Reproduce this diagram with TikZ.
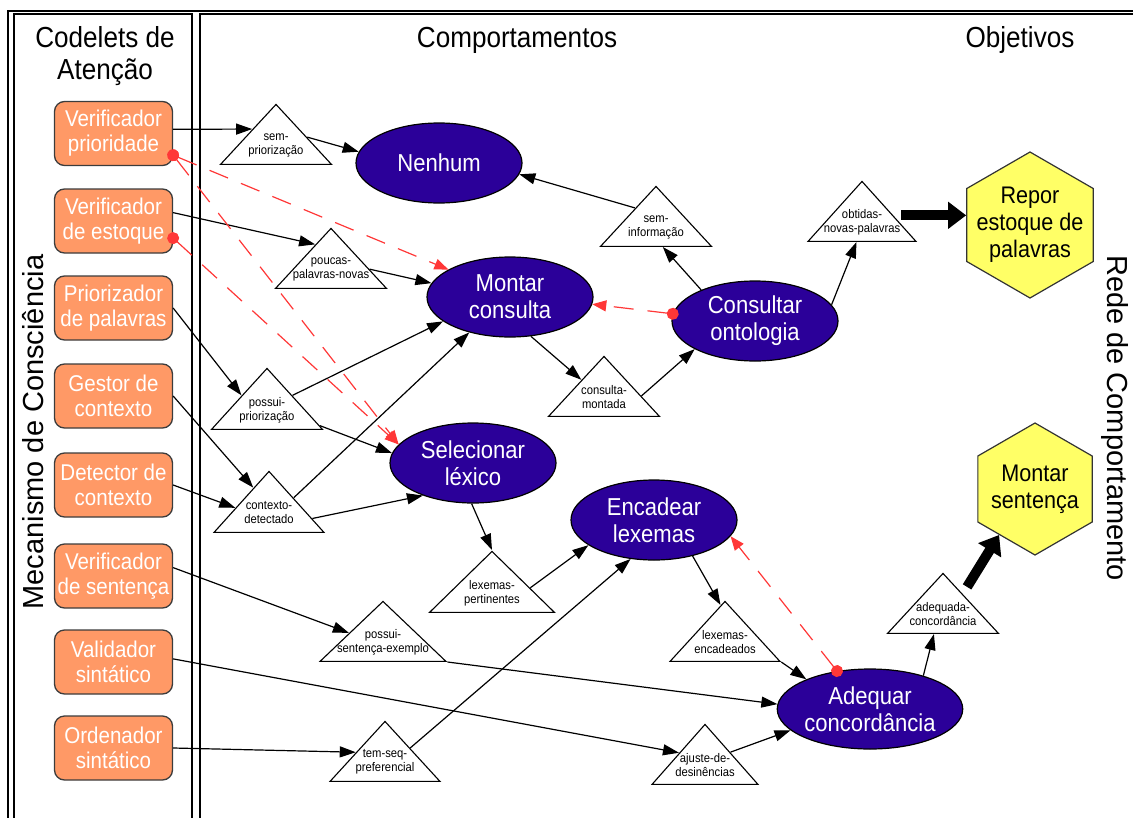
\documentclass[tikz,border=0pt]{standalone}
\usepackage{fontspec}
\setmainfont{Liberation Sans}
\newfontfamily\narrowsans[FakeStretch=0.9]{Liberation Sans}
\usetikzlibrary{shapes.geometric,arrows.meta,calc}

\definecolor{codelet}{RGB}{255,153,102}
\definecolor{codeletline}{RGB}{60,60,60}
\definecolor{behav}{RGB}{43,0,153}
\definecolor{goal}{RGB}{255,255,102}
\definecolor{inhib}{RGB}{255,55,55}

\begin{document}
\begin{tikzpicture}[x=1pt,y=-1pt,
  frame/.style={draw=black,line width=1.2pt},
  title/.style={font=\narrowsans\fontsize{29}{32}\selectfont,align=center,inner sep=0pt},
  sidetitle/.style={font=\fontsize{29}{32}\selectfont,inner sep=0pt},
  codeletbox/.style={draw=codeletline,fill=codelet,line width=1.3pt,rounded corners=10pt,
    minimum width=118pt,minimum height=64pt,inner sep=0pt,align=center,text=white,
    font=\narrowsans\fontsize{22.8}{25}\selectfont},
  behaviour/.style={ellipse,draw=black,fill=behav,line width=1.2pt,minimum width=166pt,
    minimum height=80pt,inner sep=0pt,align=center,text=white,
    font=\narrowsans\fontsize{24.5}{27}\selectfont},
  goalhex/.style={regular polygon,regular polygon sides=6,regular polygon rotate=30,
    draw=black!80,fill=goal,line width=1.2pt,inner sep=0pt},
  goaltext/.style={align=center,inner sep=0pt,font=\narrowsans\fontsize{24}{27}\selectfont},
  precond/.style={isosceles triangle,isosceles triangle stretches,shape border rotate=90,
    draw=black,fill=white,line width=1.1pt,inner sep=0pt,minimum width=111pt,
    minimum height=60pt,anchor=apex},
  precondtext/.style={font=\narrowsans\fontsize{12.5}{14}\selectfont,align=center,inner sep=0pt},
  conn/.style={draw=black,line width=1.2pt,-{Triangle[length=16pt,width=11pt]}},
  goalconn/.style={draw=black,line width=10pt,-{Triangle[length=18pt,width=26pt]}},
  inhibit/.style={draw=inhib,line width=1.2pt,dash pattern=on 20pt off 14pt,
    shorten <=-6pt,{Circle[length=12pt]}-{Triangle[length=14pt,width=11pt]}}
]
\useasboundingbox (0,0) rectangle (1133,817);
\clip (0,0) rectangle (1133,817);

% panel frames
\draw[frame] (8,840) -- (8,11) -- (1150,11);
\draw[frame] (14,840) -- (14,14) -- (192,14) -- (192,840);
\draw[frame] (200,840) -- (200,14) -- (1150,14);

% headings
\node[title] (hcod) at (105,56) {Codelets de\\Atenção};
\node[title] (hcomp) at (517,40) {Comportamentos};
\node[title] (hobj) at (1020,40) {Objetivos};
\node[sidetitle,rotate=90] (hmec) at (33,432) {Mecanismo de Consciência};
\node[sidetitle,rotate=-90] (hrede) at (1115,418) {Rede de Comportamento};

% attention codelets
\node[codeletbox] (vp)  at (113.5,133.5) {Verificador\\prioridade};
\node[codeletbox] (ve)  at (113.5,221) {Verificador\\de estoque};
\node[codeletbox] (pp)  at (113.5,308) {Priorizador\\de palavras};
\node[codeletbox] (gc)  at (113.5,396) {Gestor de\\contexto};
\node[codeletbox] (dc)  at (113.5,485) {Detector de\\contexto};
\node[codeletbox] (vs)  at (113.5,576) {Verificador\\de sentença};
\node[codeletbox] (vsi) at (113.5,662) {Validador\\sintático};
\node[codeletbox] (os)  at (113.5,748) {Ordenador\\sintático};

% behaviours
\node[behaviour] (ne) at (439,163) {Nenhum};
\node[behaviour] (mc) at (510,297) {Montar\\consulta};
\node[behaviour] (co) at (755,321) {Consultar\\ontologia};
\node[behaviour] (sl) at (473,463) {Selecionar\\léxico};
\node[behaviour] (el) at (654,520) {Encadear\\lexemas};
\node[behaviour] (ad) at (870,709) {Adequar\\concordância};

% goals
\node[goalhex,minimum size=146pt] (rp) at (1030,225) {};
\node[goalhex,minimum size=132pt] (ms) at (1035,489) {};
\node[goaltext] (rpl) at (rp.center) {Repor\\estoque de\\palavras};
\node[goaltext] (msl) at (ms.center) {Montar\\sentença};

% propositions
\node[precond] (tsp)  at (276,103) {};
\node[precond] (tppn) at (331,227) {};
\node[precond] (tsi)  at (656,185) {};
\node[precond,minimum width=108pt] (tonp) at (862,180) {};
\node[precond] (tcm)  at (604,355) {};
\node[precond,minimum height=61pt] (tpp)  at (267,367) {};
\node[precond,minimum width=110pt,minimum height=61pt] (tcd)  at (269,470) {};
\node[precond,minimum width=125pt,minimum height=61pt] (tlp)  at (492,550) {};
\node[precond,minimum width=126pt] (tpse) at (383,600) {};
\node[precond,minimum width=110pt] (tle)  at (725,600) {};
\node[precond] (tac)  at (943,572) {};
\node[precond,minimum width=110pt] (ttsp) at (385,720) {};
\node[precond,minimum width=106pt] (tad)  at (705,723) {};

\node[precondtext] (tspl)  at ($(tsp.lower side)+(0,-20)$)  {sem-\\priorização};
\node[precondtext] (tppnl) at ($(tppn.lower side)+(0,-20)$) {poucas-\\palavras-novas};
\node[precondtext] (tsil)  at ($(tsi.lower side)+(0,-20)$)  {sem-\\informação};
\node[precondtext] (tonpl) at ($(tonp.lower side)+(0,-20)$) {obtidas-\\novas-palavras};
\node[precondtext] (tcml)  at ($(tcm.lower side)+(0,-20)$)  {consulta-\\montada};
\node[precondtext] (tppl)  at ($(tpp.lower side)+(0,-20)$)  {possui-\\priorização};
\node[precondtext] (tcdl)  at ($(tcd.lower side)+(0,-20)$)  {contexto-\\detectado};
\node[precondtext] (tlpl)  at ($(tlp.lower side)+(0,-20)$)  {lexemas-\\pertinentes};
\node[precondtext] (tpsel) at ($(tpse.lower side)+(0,-20)$) {possui-\\sentença-exemplo};
\node[precondtext] (tlel)  at ($(tle.lower side)+(0,-20)$)  {lexemas-\\encadeados};
\node[precondtext] (tacl)  at ($(tac.lower side)+(0,-20)$)  {adequada-\\concordância};
\node[precondtext] (ttspl) at ($(ttsp.lower side)+(0,-20)$) {tem-seq-\\preferencial};
\node[precondtext] (tadl)  at ($(tad.lower side)+(0,-20)$)  {ajuste-de-\\desinências};

% activation links
\draw[conn] (vp.4) -- ($(tsp.apex)!0.42!(tsp.left corner)$);
\draw[conn] ($(tsp.apex)!0.55!(tsp.right corner)$) -- (ne.172);
\draw[conn] (ve.8) -- ($(tppn.apex)!0.28!(tppn.left corner)$);
\draw[conn] ($(tppn.apex)!0.68!(tppn.right corner)$) -- (mc.170);
\draw[conn] (pp.east) -- ($(tpp.apex)!0.45!(tpp.left corner)$);
\draw[conn] ($(tpp.apex)!0.45!(tpp.right corner)$) -- (mc.200);
\draw[conn] ($(tpp.apex)!0.93!(tpp.right corner)$) -- (sl.173);
\draw[conn] (gc.east) -- ($(tcd.apex)!0.28!(tcd.left corner)$);
\draw[conn] (dc.east) -- ($(tcd.apex)!0.6!(tcd.left corner)$);
\draw[conn] ($(tcd.apex)!0.44!(tcd.right corner)$) -- (mc.221);
\draw[conn] ($(tcd.apex)!0.77!(tcd.right corner)$) -- (sl.213);
\draw[conn] (mc.-62) -- ($(tcm.apex)!0.4!(tcm.left corner)$);
\draw[conn] ($(tcm.apex)!0.66!(tcm.right corner)$) -- (co.205);
\draw[conn] (co.150) -- ($(tsi.left corner)!0.56!(tsi.right corner)$);
\draw[conn] ($(tsi.apex)!0.37!(tsi.left corner)$) -- (ne.-8);
\draw[conn] (co.12) -- ($(tonp.left corner)!0.45!(tonp.right corner)$);
\draw[conn] (sl.-92) -- (tlp.apex);
\draw[conn] ($(tlp.apex)!0.6!(tlp.right corner)$) -- (el.201);
\draw[conn] ($(ttsp.apex)!0.45!(ttsp.right corner)$) -- (el.239);
\draw[conn] (vs.8) -- ($(tpse.apex)!0.53!(tpse.left corner)$);
\draw[conn] (tpse.right corner) -- (ad.177);
\draw[conn] (vsi.3) -- ($(tad.apex)!0.48!(tad.left corner)$);
\draw[conn] (os.east) -- ($(ttsp.apex)!0.52!(ttsp.left corner)$);
\draw[conn] ($(tad.apex)!0.47!(tad.right corner)$) -- (ad.195);
\draw[conn] (el.-43) -- ($(tle.apex)!0.08!(tle.left corner)$);
\draw[conn] (tle.right corner) -- (ad.155);
\draw[conn] (ad.32) -- ($(tac.left corner)!0.42!(tac.right corner)$);

% goal links
\coordinate (onpout) at ($(tonp.apex)!0.57!(tonp.right corner)$);
\draw[goalconn,shorten <=8pt] (onpout) -- (onpout -| rp.west);
\draw[goalconn,shorten <=8pt] ($(tac.apex)!0.35!(tac.right corner)$) -- (ms.232);

% inhibition links
\draw[inhibit] (vp.-20) -- (mc.156);
\draw[inhibit] (vp.-20) -- (sl.166);
\draw[inhibit] (ve.-16) -- (sl.166);
\draw[inhibit] (co.175) -- (mc.-5);
\draw[inhibit] (ad.131) -- (el.-12);
\end{tikzpicture}
\end{document}
